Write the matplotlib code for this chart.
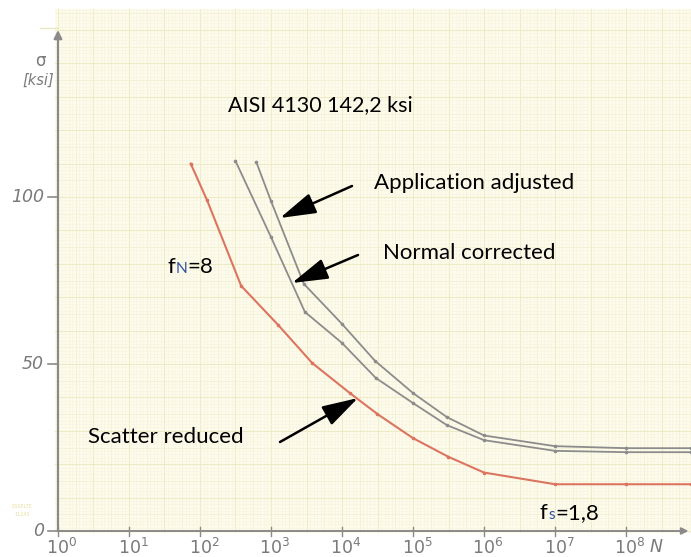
import numpy as np
import matplotlib
matplotlib.use("Agg")
import matplotlib.pyplot as plt

# ---- data ----
N_scatter = [74, 126, 380, 1260, 3800, 12900, 31600, 100000, 316000, 1e6, 1e7, 1e8, 8.2e8]
S_scatter = [110, 99, 73.4, 61.7, 50.3, 41.3, 35.0, 27.8, 22.2, 17.5, 14.0, 14.0, 14.0]

N_normal = [316, 1000, 3000, 1e4, 3e4, 1e5, 3e5, 1e6, 1e7, 1e8, 8.2e8]
S_normal = [110.8, 88.0, 65.6, 56.3, 45.8, 38.3, 31.7, 27.2, 24.0, 23.6, 23.6]

N_applic = [620, 1000, 2900, 1e4, 2.9e4, 1e5, 3e5, 1e6, 1e7, 1e8, 8.2e8]
S_applic = [110.5, 98.8, 74.0, 62.0, 51.0, 41.3, 34.1, 28.6, 25.4, 24.8, 24.8]

y_ticks = [0, 50, 100]
y_tick_labels = ["0", "50", "100"]
x_decades = [0, 1, 2, 3, 4, 5, 6, 7, 8]

title_text = "AISI 4130 142,2 ksi"

W, H = 691, 557
fig = plt.figure(figsize=(W / 100, H / 100), dpi=100, facecolor="white")

# paper area in pixels
px_left, px_right, px_top, px_bottom = 55, 691, 9, 533
ax = fig.add_axes([px_left / W, 1 - px_bottom / H, (px_right - px_left) / W, (px_bottom - px_top) / H])
ax.set_xscale("log")
lx0, lx1 = -0.042, 8.915
ax.set_xlim(10 ** lx0, 10 ** lx1)
ax.set_ylim(-0.6, 156.3)
ax.set_facecolor("#fdfcec")
for s in ax.spines.values():
    s.set_visible(False)
ax.set_xticks([])
ax.set_yticks([])
ax.minorticks_off()

# graph-paper grid
def grid_style(k):
    if k % 10 == 0:
        return "#eeeac6", 0.8
    if k % 5 == 0:
        return "#f3f0d6", 0.6
    return "#f7f5e0", 0.45

for i in range(-1, 180):
    e = i * 0.05
    if e < lx0 or e > lx1:
        continue
    c, lw = grid_style(i)
    ax.axvline(10 ** e, color=c, lw=lw, zorder=0)
for j in range(0, 157):
    c, lw = grid_style(j)
    ax.axhline(j, color=c, lw=lw, zorder=0)

# axes lines (hand drawn on the paper)
axis_c = "#8a8a8a"
ax.annotate("", xy=(1, 150), xytext=(1, 0), xycoords="data",
            arrowprops=dict(arrowstyle="-|>", color=axis_c, lw=1.6, mutation_scale=12,
                            shrinkA=0, shrinkB=0), zorder=3, annotation_clip=False)
ax.annotate("", xy=(10 ** 8.88, 0), xytext=(1, 0), xycoords="data",
            arrowprops=dict(arrowstyle="-|>", color=axis_c, lw=1.4, mutation_scale=10,
                            shrinkA=0, shrinkB=0), zorder=3, annotation_clip=False)
# faint top line extending left
fig.add_artist(plt.Line2D([40 / W, 58 / W], [1 - 28 / H, 1 - 28 / H], color="#ebe7c4", lw=1))

# y ticks
for yv, lab in zip(y_ticks, y_tick_labels):
    ypx = ax.transData.transform((1, yv))[1]
    fig.add_artist(plt.Line2D([48 / W, 58 / W], [ypx / H, ypx / H], color=axis_c, lw=1.2))
    fig.text(44 / W, ypx / H, lab, ha="right", va="center", fontsize=12.5,
             style="italic", color="#7a7a7a", family="DejaVu Sans", fontweight="light")

# x ticks
for d in x_decades:
    xpx = ax.transData.transform((10 ** d, 0))[0]
    fig.add_artist(plt.Line2D([xpx / W, xpx / W], [(H - 536) / H, (H - 527) / H], color=axis_c, lw=1.0))
    fig.text((xpx + 4) / W, 1 - 548 / H, r"$\mathit{10^{%d}}$" % d, ha="center", va="center",
             fontsize=12.5, color="#7a7a7a")

fig.text(656 / W, 1 - 547 / H, "N", ha="center", va="center", fontsize=12.5,
         style="italic", color="#7a7a7a")
fig.text(40 / W, 1 - 61 / H, "σ", ha="center", va="center", fontsize=12, color="#7a7a7a")
fig.text(38 / W, 1 - 80 / H, "[ksi]", ha="center", va="center", fontsize=10.5,
         color="#7a7a7a", style="italic")
fig.text(22 / W, 1 - 506 / H, "ESSELTE", ha="center", va="center", fontsize=3.5, color="#e8e0a0")
fig.text(22 / W, 1 - 515 / H, "11245", ha="center", va="center", fontsize=3.5, color="#e8e0a0")

# curves
gray = "#8c8c8c"
red = "#dc7460"
ax.plot(N_applic, S_applic, color=gray, lw=1.3, marker="o", ms=1.6, zorder=4)
ax.plot(N_normal, S_normal, color=gray, lw=1.3, marker="o", ms=1.6, zorder=4)
ax.plot(N_scatter, S_scatter, color=red, lw=1.5, marker="o", ms=1.6, zorder=4)

# texts
font = "Lato"
fs = 16
fig.text(228 / W, 1 - 105 / H, title_text, ha="left", va="center", fontsize=15.5, family=font)
fig.text(374 / W, 1 - 183 / H, "Application adjusted", ha="left", va="center", fontsize=fs, family=font)
fig.text(383 / W, 1 - 253 / H, "Normal corrected", ha="left", va="center", fontsize=fs, family=font)
fig.text(88 / W, 1 - 437 / H, "Scatter reduced", ha="left", va="center", fontsize=fs, family=font)

t1 = fig.text(167 / W, 1 - 267 / H, "f", ha="left", va="center", fontsize=fs, family=font)
t2 = fig.text(0, 0, "N", fontsize=fs * 0.7, family=font, color="#3050a0")
t3 = fig.text(0, 0, "=8", fontsize=fs, family=font)
u1 = fig.text(540 / W, 1 - 513 / H, "f", ha="left", va="center", fontsize=fs, family=font)
u2 = fig.text(0, 0, "s", fontsize=fs * 0.7, family=font, color="#3050a0")
u3 = fig.text(0, 0, "=1,8", fontsize=fs, family=font)

fig.canvas.draw()
r = fig.canvas.get_renderer()


def chain(base, sub, rest):
    bb = base.get_window_extent(r)
    sub.set_transform(None)
    sub.set_position((bb.x1 + 0.5, bb.y0 + 1))
    sub.set_ha("left")
    sub.set_va("bottom")
    fig.canvas.draw()
    bb2 = sub.get_window_extent(r)
    rest.set_transform(None)
    rest.set_position((bb2.x1 + 0.5, bb.y0 + 0.5 * (bb.y1 - bb.y0)))
    rest.set_ha("left")
    rest.set_va("center")


chain(t1, t2, t3)
chain(u1, u2, u3)


# arrows (figure pixels)
def arrow(tail, tip):
    fig.add_artist(matplotlib.patches.FancyArrowPatch(
        (tail[0] / W, 1 - tail[1] / H), (tip[0] / W, 1 - tip[1] / H),
        transform=fig.transFigure, arrowstyle="-|>,head_length=1.3,head_width=0.38",
        mutation_scale=17, color="black", lw=1.8, zorder=10, shrinkA=0, shrinkB=0))


arrow((352, 186), (280, 218))
arrow((358, 255), (292, 283))
arrow((280, 442), (358, 398))

fig.savefig("out.png", dpi=100, facecolor="white")
